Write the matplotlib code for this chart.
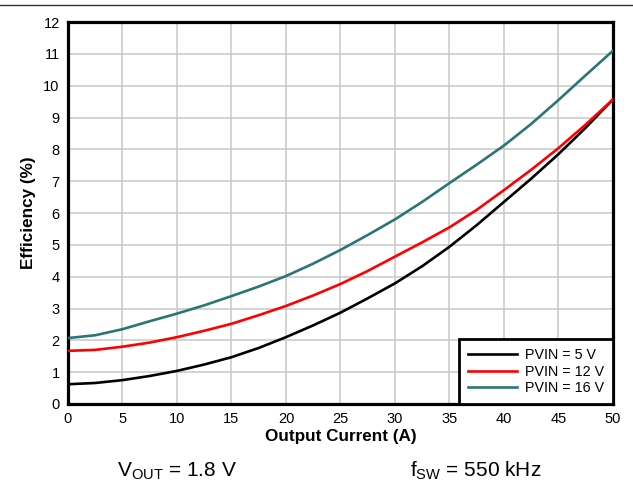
"""
Efficiency vs output current for three PVIN settings.
"""

import matplotlib
matplotlib.use("Agg")
import matplotlib.pyplot as plt
from matplotlib.lines import Line2D

plt.rcParams["font.family"] = ["Liberation Sans", "DejaVu Sans"]
plt.rcParams["mathtext.fontset"] = "custom"
plt.rcParams["mathtext.rm"] = "Liberation Sans"


# ============================================================
# Data
# ============================================================

current = [0, 2.5, 5, 7.5, 10, 12.5, 15, 17.5, 20, 22.5, 25,
           27.5, 30, 32.5, 35, 37.5, 40, 42.5, 45, 47.5, 50]

eff_5v = [0.62, 0.66, 0.75, 0.88, 1.04, 1.24, 1.47, 1.76, 2.10, 2.47, 2.87,
          3.32, 3.79, 4.33, 4.94, 5.62, 6.35, 7.08, 7.85, 8.68, 9.57]

eff_12v = [1.67, 1.70, 1.80, 1.93, 2.10, 2.30, 2.52, 2.79, 3.08, 3.41, 3.77,
           4.18, 4.63, 5.08, 5.55, 6.10, 6.72, 7.36, 8.04, 8.78, 9.57]

eff_16v = [2.07, 2.16, 2.35, 2.60, 2.84, 3.10, 3.39, 3.69, 4.02, 4.41, 4.84,
           5.31, 5.80, 6.35, 6.94, 7.52, 8.12, 8.80, 9.55, 10.33, 11.10]

labels = ["PVIN = 5 V", "PVIN = 12 V", "PVIN = 16 V"]
colors = ["#000000", "#ff0000", "#2a7575"]


# ============================================================
# Figure
# ============================================================

fig = plt.figure(figsize=(6.33, 4.84), dpi=100)
ax = fig.add_axes([0.1074, 0.1653, 0.8610, 0.7892])

for y, lab, col in zip([eff_5v, eff_12v, eff_16v], labels, colors):
    ax.plot(current, y, color=col, linewidth=1.9, label=lab, zorder=3)

ax.set_xlim(0, 50)
ax.set_ylim(0, 12)
ax.set_xticks(range(0, 51, 5))
ax.set_yticks(range(0, 13, 1))
ax.grid(True, color="#c8c8c8", linewidth=1.1)
ax.set_axisbelow(True)

ax.tick_params(length=0, labelsize=10.5, pad=6)
for s in ax.spines.values():
    s.set_linewidth(2.3)
    s.set_color("black")

ax.set_xlabel("Output Current (A)", fontsize=12.3, fontweight="bold", labelpad=2)
ax.set_ylabel("Efficiency (%)", fontsize=12.3, fontweight="bold", labelpad=5)

leg = ax.legend(loc="lower right", borderaxespad=0, fontsize=10.3,
                fancybox=False, framealpha=1, edgecolor="black",
                handlelength=3.4, handletextpad=0.6, labelspacing=0.2,
                borderpad=0.6)
leg.get_frame().set_linewidth(2.0)

# conditions below the plot
fig.text(0.280, 0.0145, r"$\mathregular{V_{OUT}}$ = 1.8 V", fontsize=15,
         ha="center", va="baseline")
fig.text(0.752, 0.0145, r"$\mathregular{f_{SW}}$ = 550 kHz", fontsize=15,
         ha="center", va="baseline")

# rule across the top
fig.add_artist(Line2D([0, 1], [0.989, 0.989], transform=fig.transFigure,
                      color="#333333", linewidth=1.0))

fig.savefig("out.png", dpi=100)
